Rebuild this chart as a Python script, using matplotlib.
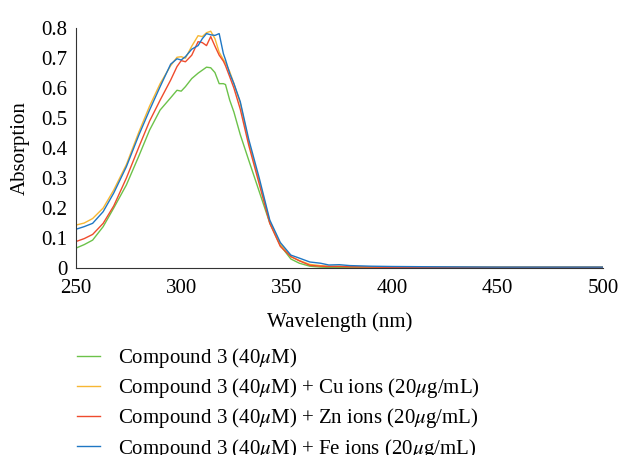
import matplotlib
matplotlib.use("Agg")
import matplotlib.pyplot as plt

plt.rcParams["font.family"] = ["Liberation Serif", "DejaVu Serif"]
plt.rcParams["mathtext.fontset"] = "stix"

wavelength = [250, 254, 258, 263, 268, 274, 280, 285, 290, 295, 298, 300,
              302, 305, 308, 310, 312, 314, 316, 318, 320, 321, 323, 325,
              328, 332, 337, 342, 347, 352, 356, 361, 366, 370, 375, 380,
              390, 400, 420, 450, 480, 500]

compound = [0.066, 0.078, 0.093, 0.138, 0.200, 0.277, 0.375, 0.460, 0.527,
            0.568, 0.593, 0.590, 0.605, 0.632, 0.650, 0.660, 0.670, 0.668,
            0.652, 0.615, 0.615, 0.612, 0.560, 0.520, 0.445, 0.360, 0.255,
            0.150, 0.075, 0.030, 0.016, 0.006, 0.003, 0.002, 0.002, 0.002,
            0.002, 0.002, 0.002, 0.002, 0.002, 0.002]

cu = [0.143, 0.150, 0.165, 0.200, 0.260, 0.345, 0.455, 0.540, 0.615, 0.675,
      0.703, 0.705, 0.700, 0.740, 0.775, 0.772, 0.785, 0.790, 0.765, 0.720,
      0.695, 0.685, 0.655, 0.615, 0.550, 0.420, 0.290, 0.155, 0.080, 0.038,
      0.025, 0.012, 0.008, 0.006, 0.006, 0.005, 0.004, 0.004, 0.003, 0.003,
      0.003, 0.003]

zn = [0.088, 0.098, 0.112, 0.149, 0.207, 0.300, 0.405, 0.490, 0.560, 0.627,
      0.672, 0.692, 0.688, 0.710, 0.755, 0.752, 0.742, 0.772, 0.740, 0.710,
      0.690, 0.675, 0.638, 0.600, 0.530, 0.410, 0.280, 0.149, 0.072, 0.038,
      0.024, 0.009, 0.006, 0.005, 0.005, 0.004, 0.003, 0.002, 0.002, 0.002,
      0.002, 0.002]

fe = [0.129, 0.138, 0.149, 0.188, 0.250, 0.338, 0.445, 0.527, 0.605, 0.680,
      0.698, 0.694, 0.705, 0.730, 0.742, 0.765, 0.782, 0.778, 0.776, 0.782,
      0.715, 0.695, 0.649, 0.615, 0.555, 0.430, 0.300, 0.160, 0.085, 0.043,
      0.033, 0.020, 0.016, 0.010, 0.011, 0.008, 0.006, 0.005, 0.004, 0.003,
      0.003, 0.003]

labels = [
    r"Compound 3 (40$\mu$M)",
    r"Compound 3 (40$\mu$M) + Cu ions (20$\mu$g/mL)",
    r"Compound 3 (40$\mu$M) + Zn ions (20$\mu$g/mL)",
    r"Compound 3 (40$\mu$M) + Fe ions (20$\mu$g/mL)",
]
colors = ["#6cc24a", "#f7b733", "#ef4b2d", "#1f77c4"]
series = [compound, cu, zn, fe]

xticks = [250, 300, 350, 400, 450, 500]
yticks = [0, 0.1, 0.2, 0.3, 0.4, 0.5, 0.6, 0.7, 0.8]
ytick_labels = ["0", "0.1", "0.2", "0.3", "0.4", "0.5", "0.6", "0.7", "0.8"]


def main():
    fig = plt.figure(figsize=(6.21, 4.55), dpi=100)
    ax = fig.add_axes([0.122, 0.411, 0.849, 0.527])
    for values, color, label in zip(series, colors, labels):
        ax.plot(wavelength, values, color=color, lw=1.0, label=label)

    ax.set_xlim(250, 500)
    ax.set_ylim(0, 0.8)
    ax.set_xticks(xticks)
    ax.set_yticks(yticks, ytick_labels)
    ax.tick_params(length=0, labelsize=15)
    ax.tick_params(axis="x", pad=8)
    ax.tick_params(axis="y", pad=6)
    ax.spines["top"].set_visible(False)
    ax.spines["right"].set_visible(False)
    ax.spines["left"].set_color("#333333")
    ax.spines["bottom"].set_color("#333333")
    ax.set_xlabel("Wavelength (nm)", fontsize=15, labelpad=10)
    ax.set_ylabel("Absorption", fontsize=15, labelpad=8)

    fig.legend(loc="upper left", bbox_to_anchor=(0.093, 0.281),
               frameon=False, fontsize=15, handlelength=1.15,
               handletextpad=0.85, labelspacing=0.3)

    fig.savefig("out.png", dpi=100)


if __name__ == "__main__":
    main()
